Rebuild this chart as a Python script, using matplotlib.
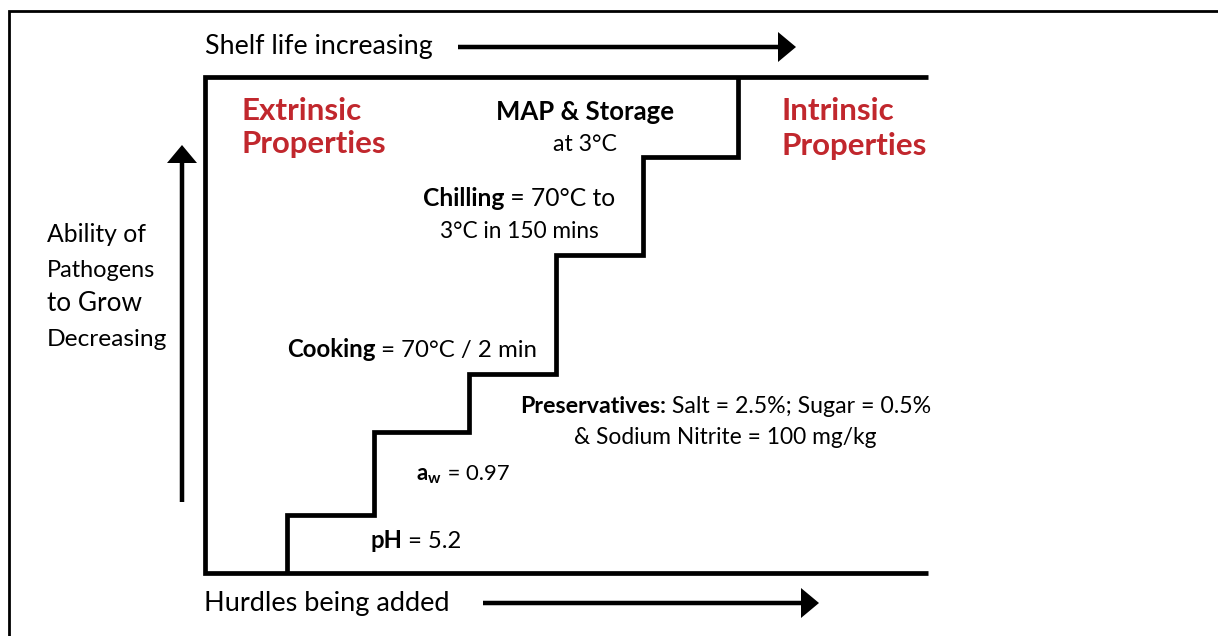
import matplotlib
matplotlib.use('Agg')
import matplotlib.pyplot as plt

plt.rcParams['font.family'] = ['Lato', 'DejaVu Sans']
plt.rcParams['mathtext.fontset'] = 'custom'
plt.rcParams['mathtext.rm'] = 'Lato'
plt.rcParams['mathtext.bf'] = 'Lato:bold'
plt.rcParams['mathtext.it'] = 'Lato:italic'
plt.rcParams['mathtext.default'] = 'rm'

# ---- data: hurdle staircase (x where each hurdle begins, level reached) ----
hurdles = ['pH', 'a_w', 'Preservatives', 'Cooking', 'Chilling', 'MAP & Storage']
step_x = [287, 374, 469, 556, 643, 738]
step_level = [515, 432, 374, 255, 157, 77]

# hurdle labels: each line is a list of (text, bold?) pieces
hurdle_lines = [
    [('pH', True), (' = 5.2', False)],
    [(r'$\mathbf{a_w}$', True), (' = 0.97', False)],
    [('Preservatives:', True), (' Salt = 2.5%; Sugar = 0.5%', False)],
    [('& Sodium Nitrite = 100 mg/kg', False)],
    [('Cooking', True), (' = 70°C / 2 min', False)],
    [('Chilling', True), (' = 70°C to', False)],
    [('3°C in 150 mins', False)],
    [('MAP & Storage', True)],
    [('at 3°C', False)],
]
left_label = ['Ability of', 'Pathogens', 'to Grow', 'Decreasing']
top_label = 'Shelf life increasing'
bottom_label = 'Hurdles being added'
extrinsic = ['Extrinsic', 'Properties']
intrinsic = ['Intrinsic', 'Properties']

RED = '#C1272D'
BOOST = 1.02

fig = plt.figure(figsize=(12.18, 6.36), dpi=100)
ax = fig.add_axes([0, 0, 1, 1])
ax.set_xlim(0, 1218)
ax.set_ylim(636, 0)
ax.axis('off')

# outer frame (top and left only)
ax.plot([9, 9, 1218], [640, 10.5, 10.5], color='black', lw=2.0,
        solid_joinstyle='miter', solid_capstyle='butt')

# box
BOX_L, BOX_R, BOX_T, BOX_B = 205, 928, 77, 573
ax.plot([BOX_R, BOX_L, BOX_L, BOX_R], [BOX_T, BOX_T, BOX_B, BOX_B],
        color='black', lw=3.4, solid_joinstyle='miter', solid_capstyle='butt')

# staircase
xs, ys = [step_x[0]], [BOX_B]
for i, (sx, lv) in enumerate(zip(step_x, step_level)):
    xs.append(sx); ys.append(lv)
    if i + 1 < len(step_x):
        xs.append(step_x[i + 1]); ys.append(lv)
ax.plot(xs, ys, color='black', lw=3.4, solid_joinstyle='miter',
        solid_capstyle='butt')

# arrows
akw = dict(width=4.5, head_width=30, head_length=18, length_includes_head=True,
           color='black', lw=0)
ax.arrow(458, 47, 796 - 458, 0, **akw)
ax.arrow(483, 603, 819 - 483, 0, **akw)
ax.arrow(182, 502, 0, 145 - 502, **akw)

groups = []  # (list of artists, anchor x, ha, target width)


def put(pieces, x, y, ha, w, size=18, color='black'):
    arts = []
    for s, bold in pieces:
        t = ax.text(x, y, s, ha='left', va='baseline', fontsize=size,
                    color=color, fontweight='bold' if bold else 'normal')
        arts.append(t)
    groups.append((arts, x, ha, w))


put([(top_label, False)], 205, 54, 'left', 223)
put([(bottom_label, False)], 204, 611, 'left', 241)

for s, y, w in zip(left_label, [242, 277, 311, 346.5], [97, 107, 93, 118]):
    put([(s, False)], 47, y, 'left', w)

for s, y, w in zip(extrinsic, [119.5, 153.5], [118, 142]):
    put([(s, True)], 242, y, 'left', w, color=RED)
for s, y, w in zip(intrinsic, [120, 155], [111, 143]):
    put([(s, True)], 781, y, 'left', w, color=RED)

# hurdle annotations: (center x, baseline, width)
pos = [
    (416, 547.5, 89),
    (463, 480, 92),
    (726, 413, 404),
    (725, 444, 295),
    (412, 357, 245),
    (519, 206.5, 190),
    (519, 238, 156),
    (585, 119.5, 174),
    (585, 151, 63),
]
for pieces, (x, y, w) in zip(hurdle_lines, pos):
    put(pieces, x, y, 'center', w, size=17)


def widths(arts, r):
    return [a.get_window_extent(r).width for a in arts]


# fit text widths to the reference layout, then lay pieces side by side
for _ in range(3):
    fig.canvas.draw()
    r = fig.canvas.get_renderer()
    for arts, x, ha, w in groups:
        cur = sum(widths(arts, r))
        if cur > 0:
            f = w / cur
            for a in arts:
                a.set_fontsize(a.get_fontsize() * f)
for arts, x, ha, w in groups:
    for a in arts:
        a.set_fontsize(a.get_fontsize() * BOOST)
fig.canvas.draw()
r = fig.canvas.get_renderer()
inv = ax.transData.inverted()
scale = abs(inv.transform((1, 0))[0] - inv.transform((0, 0))[0])
for arts, x, ha, w in groups:
    ws = widths(arts, r)
    total = sum(ws)
    start = x if ha == 'left' else x - total * scale / 2
    for a, wd in zip(arts, ws):
        a.set_x(start)
        start += wd * scale

fig.savefig('out.png', dpi=100)
